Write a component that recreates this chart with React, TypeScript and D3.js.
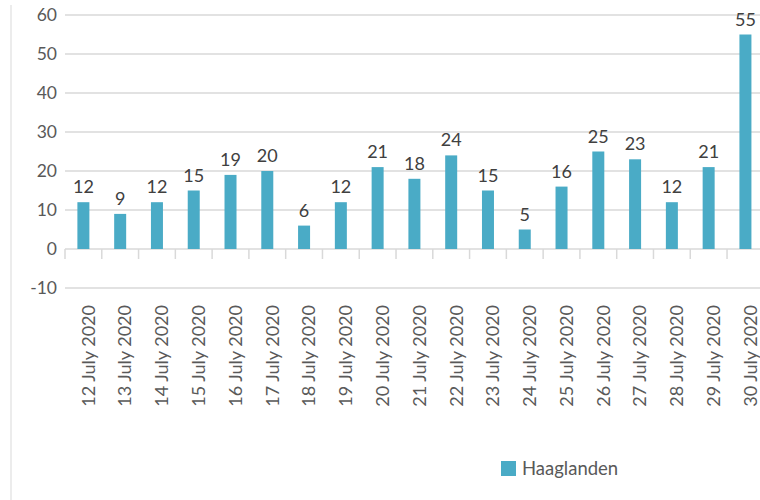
import React from "react";
import * as d3 from "d3";

const categories = [
  "12 July 2020", "13 July 2020", "14 July 2020", "15 July 2020", "16 July 2020",
  "17 July 2020", "18 July 2020", "19 July 2020", "20 July 2020", "21 July 2020",
  "22 July 2020", "23 July 2020", "24 July 2020", "25 July 2020", "26 July 2020",
  "27 July 2020", "28 July 2020", "29 July 2020", "30 July 2020",
];
const values = [12, 9, 12, 15, 19, 20, 6, 12, 21, 18, 24, 15, 5, 16, 25, 23, 12, 21, 55];
const yTicks = [-10, 0, 10, 20, 30, 40, 50, 60];
const seriesName = "Haaglanden";

const W = 760;
const H = 500;
const FONT = "Lato, 'Open Sans', sans-serif";
const BAR = "#4aabc6";
const TEXT = "#595959";

export default function App() {
  const x = d3.scaleBand<string>().domain(categories).range([65, 65 + 19 * 36.78]).paddingInner(0).paddingOuter(0);
  const y = d3.scaleLinear().domain([-10, 60]).range([288, 15]);
  const bw = 12;
  const y0 = y(0);

  return (
    <svg width={W} height={H} style={{ position: "absolute", left: 0, top: 0, background: "#fff" }}>
      <line x1={11} x2={11} y1={5} y2={H} stroke="#d9d9d9" strokeWidth={1} />
      {yTicks.map((t) => (
        <g key={t}>
          <line x1={65} x2={W} y1={y(t)} y2={y(t)} stroke="#d9d9d9" strokeWidth={1.5} />
          <text x={57} y={y(t)} dy="0.35em" textAnchor="end" fontFamily={FONT} fontSize={17.5} fill={TEXT}>
            {t}
          </text>
        </g>
      ))}
      {categories.map((c) => (
        <line key={"t" + c} x1={x(c)!} x2={x(c)!} y1={y0} y2={y0 + 10} stroke="#d9d9d9" strokeWidth={1.5} />
      ))}
      {categories.map((c, i) => {
        const cx = x(c)! + x.bandwidth() / 2;
        return (
          <g key={c}>
            <rect x={cx - bw / 2} y={y(values[i])} width={bw} height={y0 - y(values[i])} fill={BAR} />
            <text x={cx} y={y(values[i]) - 9} textAnchor="middle" fontFamily={FONT} fontSize={18} fill="#404040">
              {values[i]}
            </text>
            <text
              transform={`translate(${cx + 5},305) rotate(-90)`}
              textAnchor="end"
              dy="0.35em"
              fontFamily={FONT}
              fontSize={18}
              fill={TEXT}
            >
              {c}
            </text>
          </g>
        );
      })}
      <rect x={501} y={461} width={15} height={15} fill={BAR} />
      <text x={522} y={475} fontFamily={FONT} fontSize={18.5} fill={TEXT}>
        {seriesName}
      </text>
    </svg>
  );
}
